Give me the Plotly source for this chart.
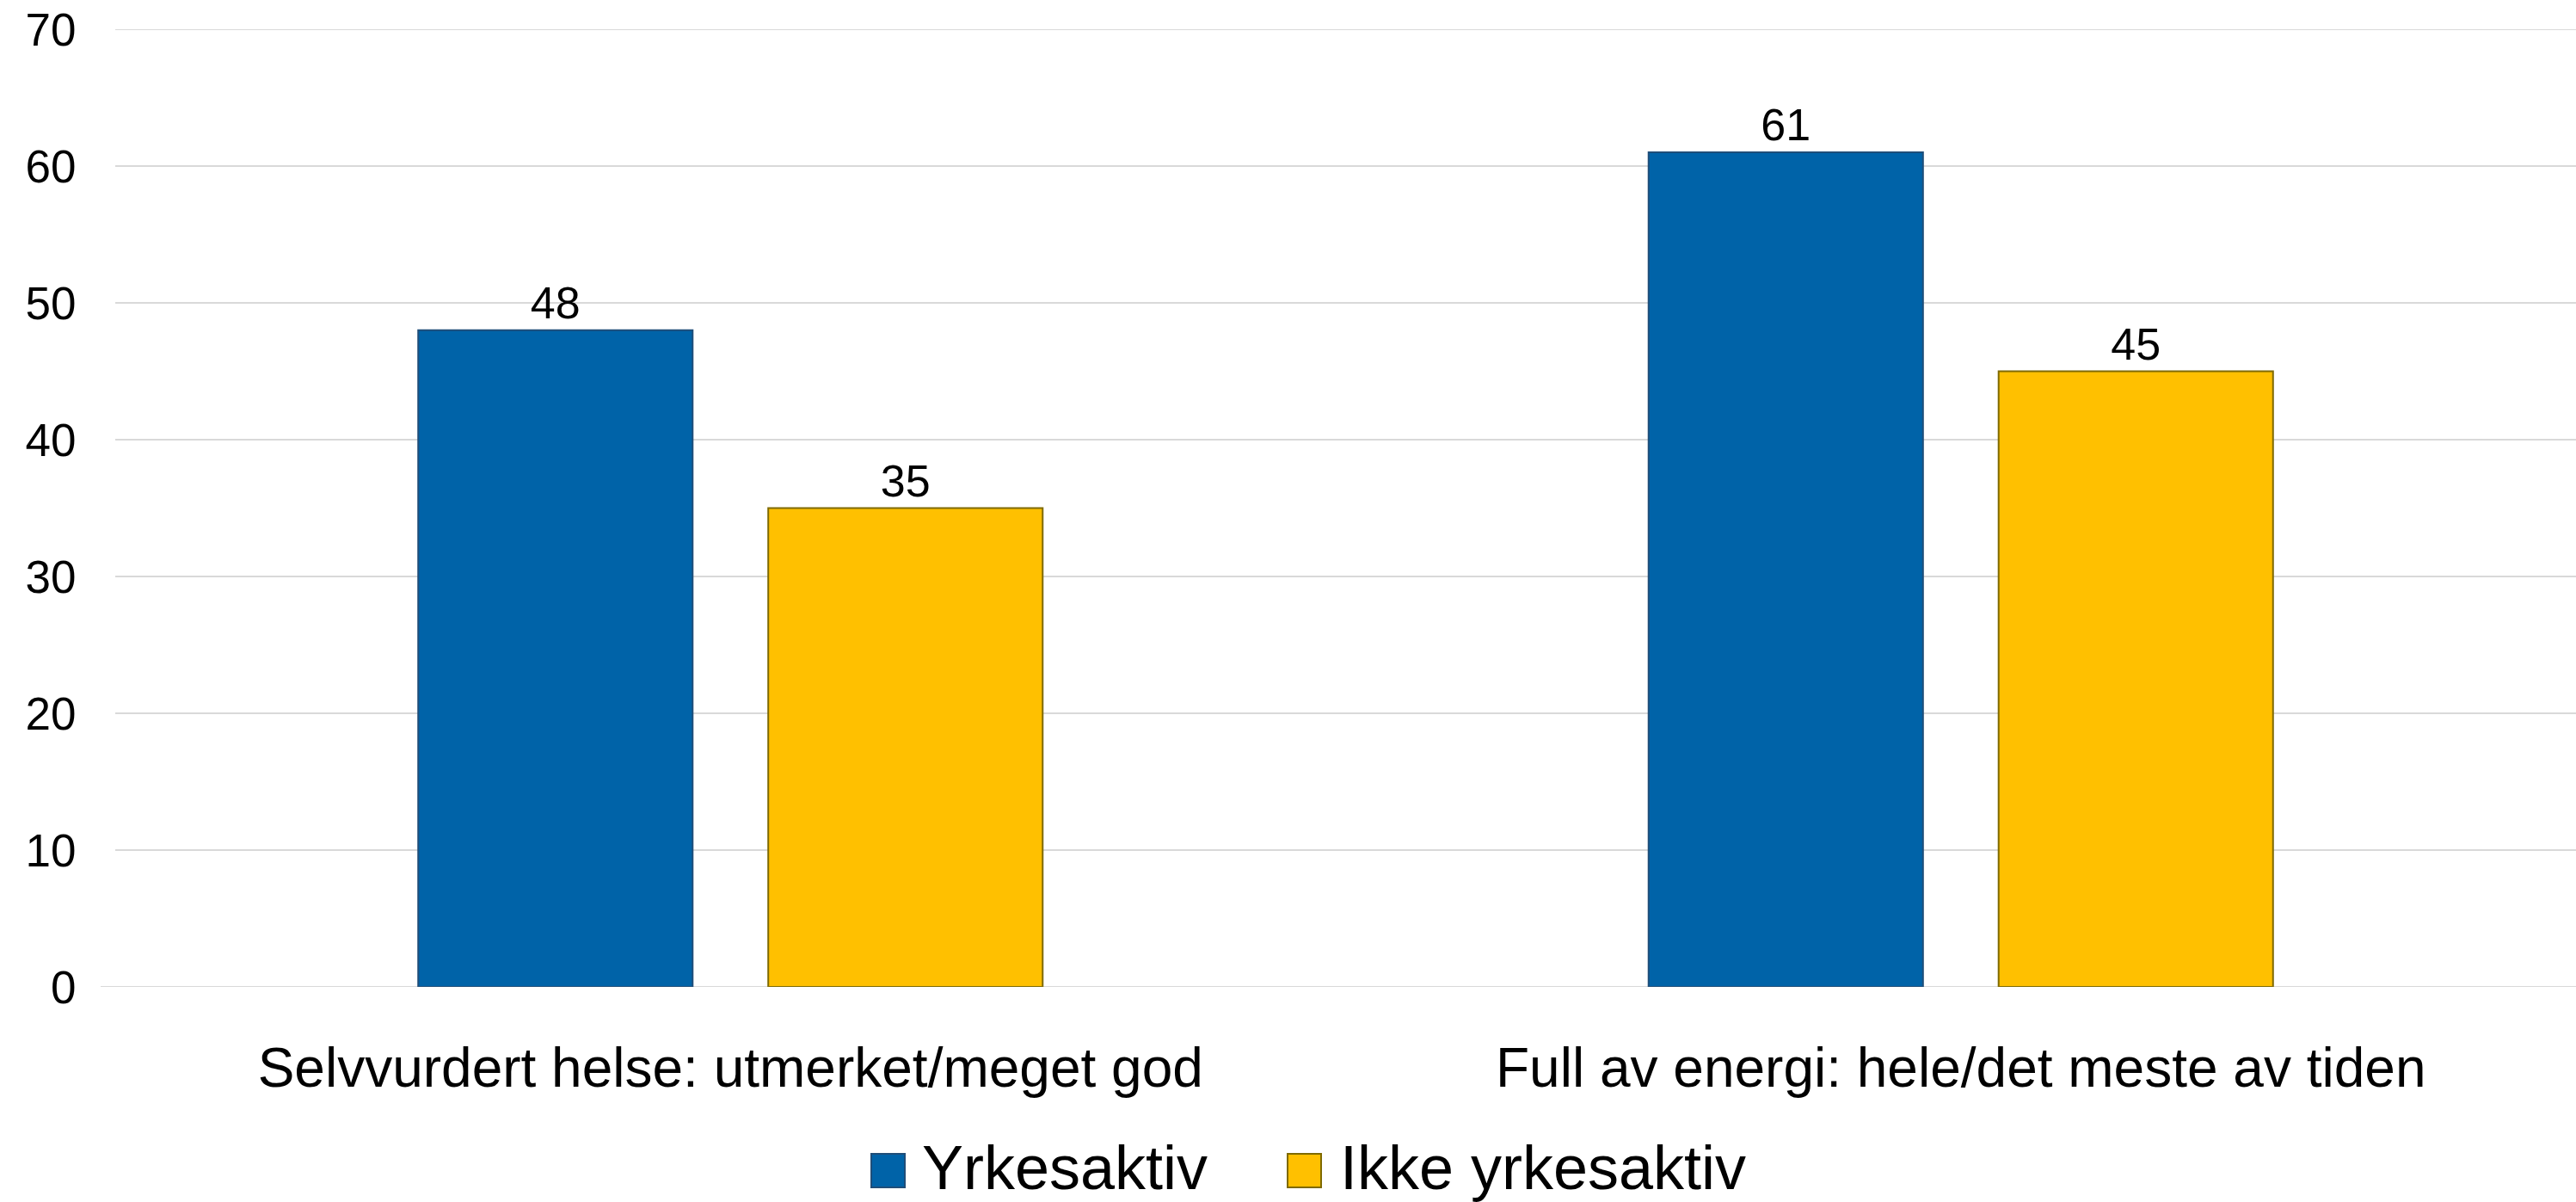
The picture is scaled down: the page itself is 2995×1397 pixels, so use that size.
import plotly.graph_objects as go

# Data
categories = ["Selvvurdert helse: utmerket/meget god", "Full av energi: hele/det meste av tiden"]
series_names = ["Yrkesaktiv", "Ikke yrkesaktiv"]
yrkesaktiv = [48, 61]
ikke_yrkesaktiv = [35, 45]
y_ticks = [0, 10, 20, 30, 40, 50, 60, 70]

fill_colors = ["#0063A8", "#FFC000"]
line_colors = ["#1F4E79", "#7F6A00"]

W, H = 2995, 1397
M_L, M_R, M_T, M_B = 134, 0, 34, 250
FONT = "Liberation Sans, Arial, sans-serif"
GRID = "#D9D9D9"

fig = go.Figure()
for name, vals, fc, lc in zip(series_names, [yrkesaktiv, ikke_yrkesaktiv], fill_colors, line_colors):
    fig.add_trace(go.Bar(
        x=categories, y=vals, name=name,
        marker=dict(color=fc, line=dict(color=lc, width=2)),
        text=vals, texttemplate="%{y}", textposition="outside",
        textfont=dict(family=FONT, size=52, color="black"),
        cliponaxis=False, showlegend=False,
    ))

# Legend drawn as large squares with text labels beneath the plot
plot_w = W - M_L - M_R
plot_h = H - M_T - M_B

def px_x(p):
    return (p - M_L) / plot_w

def px_y(p):
    return (H - M_B - p) / plot_h

legend_items = [(1013, 1070), (1497, 1556)]
sq = 39
sq_top = 1341
shapes = []
annotations = []
for (sx, tx), name, fc, lc in zip(legend_items, series_names, fill_colors, line_colors):
    shapes.append(dict(type="rect", xref="paper", yref="paper",
                       x0=px_x(sx), x1=px_x(sx + sq), y0=px_y(sq_top + sq), y1=px_y(sq_top),
                       fillcolor=fc, line=dict(color=lc, width=2)))
    annotations.append(dict(xref="paper", yref="paper", x=px_x(tx), y=px_y(1357),
                            xanchor="left", yanchor="middle", text=name, showarrow=False,
                            font=dict(family=FONT, size=72, color="black")))

# Baseline extends slightly to the left of the plot area
shapes.append(dict(type="line", xref="paper", yref="y", x0=px_x(117), x1=1, y0=0, y1=0,
                   line=dict(color=GRID, width=2), layer="below"))
# Top gridline at the edge of the value range
shapes.append(dict(type="line", xref="paper", yref="y", x0=0, x1=1, y0=y_ticks[-1], y1=y_ticks[-1],
                   line=dict(color=GRID, width=2), layer="below"))

fig.update_layout(
    width=W, height=H,
    margin=dict(l=M_L, r=M_R, t=M_T, b=M_B, autoexpand=False),
    paper_bgcolor="white", plot_bgcolor="white",
    barmode="group", bargap=0.431, bargroupgap=0.216,
    font=dict(family=FONT, color="black"),
    shapes=shapes, annotations=annotations,
    showlegend=False,
)
fig.update_yaxes(
    range=[0, 70], tickvals=y_ticks, ticktext=[str(v) for v in y_ticks],
    showgrid=True, gridcolor=GRID, gridwidth=2, zeroline=False,
    showline=False, ticks="outside", ticklen=34, tickcolor="rgba(0,0,0,0)",
    tickfont=dict(family=FONT, size=53, color="black"),
)
fig.update_xaxes(
    showgrid=False, showline=False, zeroline=False,
    ticks="outside", ticklen=38, tickcolor="rgba(0,0,0,0)",
    tickfont=dict(family=FONT, size=64, color="black"),
)

fig.write_html("out.html")
